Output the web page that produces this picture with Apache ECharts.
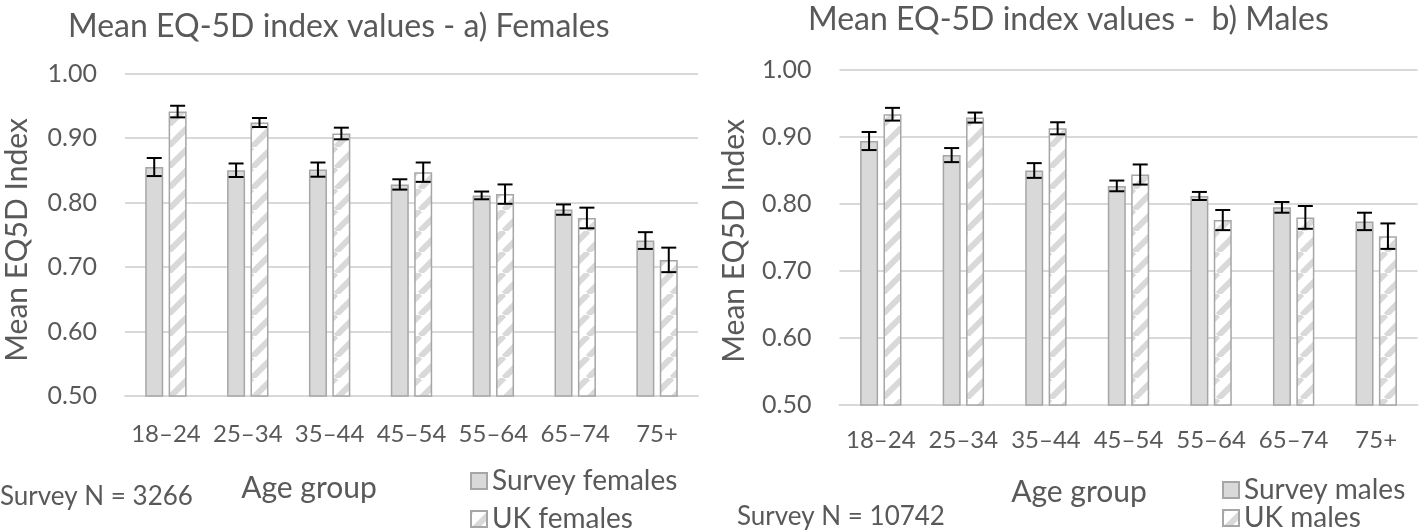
<!DOCTYPE html>
<html><head><meta charset="utf-8">
<script src="https://cdn.jsdelivr.net/npm/echarts@6/dist/echarts.min.js"></script>
<style>html,body{margin:0;padding:0;background:#fff}#c{width:1424px;height:532px}</style>
</head><body><div id="c"></div>
<script>
const categories = ['18–24','25–34','35–44','45–54','55–64','65–74','75+'];
const yTicks = [0.5, 0.6, 0.7, 0.8, 0.9, 1.0];
const femaleSurvey    = [0.855, 0.850, 0.851, 0.828, 0.811, 0.789, 0.741];
const femaleSurveyErr = [0.014, 0.0105, 0.011, 0.008, 0.006, 0.008, 0.013];
const femaleUK        = [0.941, 0.924, 0.907, 0.847, 0.813, 0.776, 0.711];
const femaleUKErr     = [0.009, 0.007, 0.009, 0.015, 0.015, 0.016, 0.019];
const maleSurvey      = [0.894, 0.873, 0.850, 0.827, 0.812, 0.795, 0.774];
const maleSurveyErr   = [0.0135, 0.0105, 0.011, 0.008, 0.006, 0.008, 0.013];
const maleUK          = [0.934, 0.929, 0.913, 0.844, 0.776, 0.780, 0.752];
const maleUKErr       = [0.0095, 0.0075, 0.009, 0.015, 0.015, 0.017, 0.019];

const FONT = 'Lato, "Liberation Sans", sans-serif';
const TXT = '#595959';
const GRID = '#d9d9d9';
const BORDER = '#a6a6a6';

function stripe() {
  const P = 21;
  const cv = document.createElement('canvas');
  cv.width = P; cv.height = P;
  const ctx = cv.getContext('2d');
  ctx.fillStyle = '#ffffff'; ctx.fillRect(0, 0, P, P);
  ctx.strokeStyle = '#d9d9d9'; ctx.lineWidth = 6;
  ctx.beginPath();
  for (const k of [-P, 0, P]) { ctx.moveTo(k, P); ctx.lineTo(k + P, 0); }
  ctx.stroke();
  return cv;
}
const pattern = { image: stripe(), repeat: 'repeat' };

function errData(vals, errs) { return vals.map((v, i) => [i, v - errs[i], v + errs[i]]); }
function errSeries(idx, vals, errs, off) {
  return {
    type: 'custom', xAxisIndex: idx, yAxisIndex: idx, silent: true, z: 10,
    data: errData(vals, errs),
    encode: { x: 0, y: [1, 2] },
    renderItem: function (params, api) {
      const lo = api.coord([api.value(0), api.value(1)]);
      const hi = api.coord([api.value(0), api.value(2)]);
      const x = lo[0] + off, cap = 7.5;
      const st = { stroke: '#000', lineWidth: 2 };
      return { type: 'group', children: [
        { type: 'line', shape: { x1: x, y1: lo[1], x2: x, y2: hi[1] }, style: st },
        { type: 'line', shape: { x1: x - cap, y1: lo[1], x2: x + cap, y2: lo[1] }, style: st },
        { type: 'line', shape: { x1: x - cap, y1: hi[1], x2: x + cap, y2: hi[1] }, style: st }
      ]};
    }
  };
}
function barSeries(name, idx, vals, fill) {
  return {
    name: name, type: 'bar', xAxisIndex: idx, yAxisIndex: idx, data: vals,
    barWidth: 18, barGap: '30%',
    itemStyle: { color: fill, borderColor: BORDER, borderWidth: 1.5 }
  };
}
function xAx(idx, margin) {
  return {
    type: 'category', gridIndex: idx, data: categories,
    axisLine: { lineStyle: { color: GRID, width: 2 } }, axisTick: { show: false },
    axisLabel: { color: TXT, fontFamily: FONT, fontSize: 24, margin: margin, interval: 0 }
  };
}
function yAx(idx) {
  return {
    type: 'value', gridIndex: idx, min: yTicks[0], max: yTicks[yTicks.length - 1], interval: 0.1,
    axisLine: { show: false }, axisTick: { show: false },
    splitLine: { lineStyle: { color: GRID, width: 2 } },
    axisLabel: { color: TXT, fontFamily: FONT, fontSize: 25, margin: 28, formatter: v => v.toFixed(2) }
  };
}
function leg(name, left, cy) {
  return { data: [name], orient: 'vertical', left: left, top: cy - 14, itemWidth: 16, itemHeight: 16,
    textStyle: { color: TXT, fontFamily: FONT, fontSize: 28, lineHeight: 28 }, icon: 'rect', selectedMode: false, padding: 0 };
}
function txt(text, x, y, size, align, rot) {
  return { type: 'text', x: x, y: y, rotation: rot || 0,
    style: { text: text, fill: TXT, font: size + 'px ' + FONT, align: align || 'left', verticalAlign: 'middle' } };
}

const chart = echarts.init(document.getElementById('c'), null, { renderer: 'canvas' });
chart.setOption({
  animation: false,
  grid: [
    { left: 125, top: 73.5, width: 573, height: 322.5 },
    { left: 839.5, top: 70, width: 578, height: 335 }
  ],
  xAxis: [xAx(0, 26), xAx(1, 23)],
  yAxis: [yAx(0), yAx(1)],
  legend: [
    leg('Survey females', 470, 481),
    leg('UK females', 470, 519),
    leg('Survey males', 1222, 490),
    leg('UK males', 1222, 518)
  ],
  series: [
    barSeries('Survey females', 0, femaleSurvey, '#d9d9d9'),
    barSeries('UK females', 0, femaleUK, pattern),
    errSeries(0, femaleSurvey, femaleSurveyErr, -11.7),
    errSeries(0, femaleUK, femaleUKErr, 11.7),
    barSeries('Survey males', 1, maleSurvey, '#d9d9d9'),
    barSeries('UK males', 1, maleUK, pattern),
    errSeries(1, maleSurvey, maleSurveyErr, -11.7),
    errSeries(1, maleUK, maleUKErr, 11.7)
  ],
  graphic: [
    txt('Mean EQ-5D index values - a) Females', 68, 27, 32),
    txt('Mean EQ-5D index values -  b) Males', 808, 20, 32),
    txt('Mean EQ5D Index', 17, 240, 30, 'center', Math.PI / 2),
    txt('Mean EQ5D Index', 734, 241, 30, 'center', Math.PI / 2),
    txt('Age group', 309, 488, 30, 'center'),
    txt('Age group', 1079, 492, 30, 'center'),
    txt('Survey N = 3266', 0, 497, 26),
    txt('Survey N = 10742', 737, 517, 26)
  ]
});
</script></body></html>
